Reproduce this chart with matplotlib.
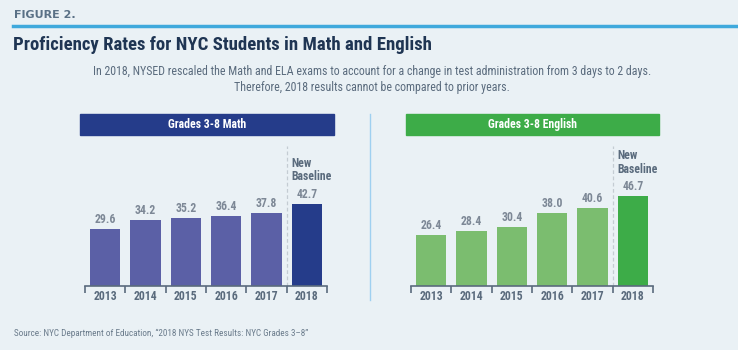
import matplotlib

matplotlib.use("Agg")

import matplotlib.pyplot as plt
from matplotlib import font_manager
from matplotlib.patches import Rectangle

# data
years = ["2013", "2014", "2015", "2016", "2017", "2018"]
math_rates = [29.6, 34.2, 35.2, 36.4, 37.8, 42.7]
english_rates = [26.4, 28.4, 30.4, 38.0, 40.6, 46.7]

BG = "#eaf1f5"
TEXT = "#5a6b7d"
LABEL = "#7d8896"

available = {f.name for f in font_manager.fontManager.ttflist}
FONT = "DejaVu Sans"
for cand in ["Liberation Sans Narrow", "Roboto Condensed", "Open Sans Condensed", "Roboto"]:
    if cand in available:
        FONT = cand
        break
plt.rcParams["font.family"] = [FONT, "DejaVu Sans"]

W, H = 738, 350
fig = plt.figure(figsize=(W / 100, H / 100), dpi=100)
fig.patch.set_facecolor(BG)


def px(x, y):
    return x / W, 1 - y / H


def draw_panel(x0, x1, values, bar_color, new_color, header_x, header_text):
    base_y = 286
    top_y = 146
    ax = fig.add_axes([x0 / W, 1 - base_y / H, (x1 - x0) / W, (base_y - top_y) / H])
    ax.set_facecolor("none")
    n = len(values)
    colors = [bar_color] * (n - 1) + [new_color]
    ax.bar(range(n), values, width=0.75, color=colors, zorder=2)
    ax.set_xlim(-0.5, n - 0.5)
    ax.set_ylim(0, 72.5)
    for s in ["top", "left", "right"]:
        ax.spines[s].set_visible(False)
    ax.spines["bottom"].set_color(TEXT)
    ax.spines["bottom"].set_linewidth(1.2)
    ax.set_yticks([])
    ax.set_xticks([i - 0.5 for i in range(n + 1)])
    ax.set_xticklabels([])
    ax.tick_params(axis="x", length=5, width=1.2, color=TEXT, direction="out")
    for i, y in enumerate(years):
        ax.text(i, -2.3, y, ha="center", va="top", fontsize=8.5, fontweight="bold",
                color=TEXT)
    for i, v in enumerate(values):
        ax.text(i, v + 1.5, f"{v:.1f}", ha="center", va="bottom", fontsize=8.5,
                fontweight="bold", color=LABEL)
    ax.axvline(n - 1.5, ymin=0, ymax=1, color="#c4ccd3", lw=0.9, ls=(0, (3, 2)), zorder=1)
    ax.text(n - 1 - 0.375, values[-1] + 10.5, "New\nBaseline", ha="left", va="bottom",
            fontsize=8.5, fontweight="bold", color=TEXT, linespacing=1.05)

    hx0, hx1 = header_x
    fig.patches.append(Rectangle(px(hx0, 135), (hx1 - hx0) / W, 21 / H,
                                 transform=fig.transFigure, color=new_color, zorder=1))
    fig.text(*px((hx0 + hx1) / 2, 124.5), header_text, ha="center", va="center",
             fontsize=8.5, fontweight="bold", color="white")


draw_panel(85, 327, math_rates, "#5b60a6", "#253c8a", (80, 334), "Grades 3-8 Math")
draw_panel(411, 653, english_rates, "#7bbd6f", "#3dac48", (406, 659), "Grades 3-8 English")

# divider between panels
fig.add_artist(plt.Line2D([370 / W, 370 / W], [1 - 114 / H, 1 - 300 / H],
                          transform=fig.transFigure, color="#9fd0f0", lw=1.0))

# header area
fig.text(*px(14, 15), "FIGURE 2.", ha="left", va="center", fontsize=8,
         fontweight="bold", color="#5a7186", family="DejaVu Sans")
fig.add_artist(plt.Line2D([13 / W, 1.0], [1 - 26 / H, 1 - 26 / H],
                          transform=fig.transFigure, color="#3fa9dc", lw=2.5))
fig.text(*px(13, 45), "Proficiency Rates for NYC Students in Math and English",
         ha="left", va="center", fontsize=13.5, fontweight="bold", color="#1f3553")
fig.text(*px(372, 79),
         "In 2018, NYSED rescaled the Math and ELA exams to account for a change in test "
         "administration from 3 days to 2 days.\nTherefore, 2018 results cannot be "
         "compared to prior years.",
         ha="center", va="center", fontsize=8.6, color=TEXT, linespacing=1.3)
fig.text(*px(14, 333),
         "Source: NYC Department of Education, \u201c2018 NYS Test Results: NYC Grades 3\u20138\u201d",
         ha="left", va="center", fontsize=6.6, color="#6b7c8c")

fig.savefig("out.png", dpi=100, facecolor=BG)
